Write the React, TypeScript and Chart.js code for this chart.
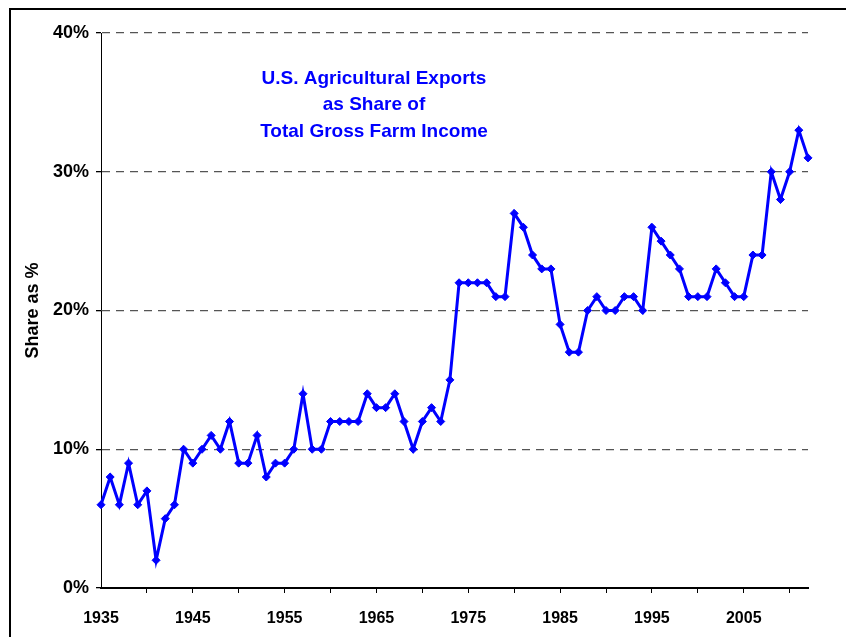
import React, { useEffect, useRef } from "react";
import { Chart, registerables } from "chart.js";

Chart.register(...registerables);

const years: string[] = [];
for (let y = 1935; y <= 2012; y++) years.push(String(y));

const shareValues: number[] = [
  6, 8, 6, 9, 6, 7, 2, 5, 6, 10,
  9, 10, 11, 10, 12, 9, 9, 11, 8, 9,
  9, 10, 14, 10, 10, 12, 12, 12, 12, 14,
  13, 13, 14, 12, 10, 12, 13, 12, 15, 22,
  22, 22, 22, 21, 21, 27, 26, 24, 23, 23,
  19, 17, 17, 20, 21, 20, 20, 21, 21, 20,
  26, 25, 24, 23, 21, 21, 21, 23, 22, 21,
  21, 24, 24, 30, 28, 30, 33, 31,
];

const titleLines = ["U.S. Agricultural Exports", "as Share of", "Total Gross Farm Income"];
const yAxisTitle = "Share as %";

const FONT = '"Liberation Sans", Arial, sans-serif';

const framePlugin = {
  id: "frame",
  beforeDraw(chart: any) {
    const ctx = chart.ctx;
    ctx.save();
    ctx.fillStyle = "#ffffff";
    ctx.fillRect(0, 0, chart.width, chart.height);
    ctx.restore();
  },
  afterDraw(chart: any) {
    const ctx = chart.ctx;
    ctx.save();
    ctx.fillStyle = "#000000";
    ctx.fillRect(9, 8, chart.width - 9, 2);
    ctx.fillRect(9, 8, 2, chart.height - 8);
    ctx.fillStyle = "#0000ff";
    ctx.font = "bold 19px " + FONT;
    ctx.textAlign = "center";
    ctx.textBaseline = "middle";
    const cx = 374;
    const ys = [79, 105, 132];
    titleLines.forEach((t, i) => ctx.fillText(t, cx, ys[i]));
    ctx.restore();
  },
};

export default function App() {
  const ref = useRef<HTMLCanvasElement | null>(null);
  useEffect(() => {
    if (!ref.current) return;
    const chart = new Chart(ref.current, {
      type: "line",
      data: {
        labels: years,
        datasets: [
          {
            data: shareValues,
            borderColor: "#0000ff",
            backgroundColor: "#0000ff",
            borderWidth: 3,
            pointStyle: "rectRot",
            pointRadius: 4,
            pointBorderWidth: 1,
            pointBackgroundColor: "#0000ff",
            pointBorderColor: "#0000ff",
            tension: 0,
            clip: false as any,
          },
        ],
      },
      plugins: [framePlugin],
      options: {
        animation: false,
        responsive: false,
        devicePixelRatio: 1,
        layout: { padding: { left: 0, right: 38, top: 33, bottom: 0 } },
        plugins: { legend: { display: false }, tooltip: { enabled: false }, title: { display: false } },
        scales: {
          x: {
            type: "category",
            offset: false,
            afterFit: (s: any) => {
              s.height = 49;
            },
            border: { display: true, color: "#000000", width: 2 },
            grid: {
              drawOnChartArea: false,
              drawTicks: true,
              tickLength: 5,
              tickWidth: 1,
              color: "rgba(0,0,0,0)",
              tickColor: (c: any) => (c.index % 5 === 0 && c.index > 0 ? "#000000" : "rgba(0,0,0,0)"),
            },
            ticks: {
              autoSkip: false,
              maxRotation: 0,
              minRotation: 0,
              padding: 16,
              color: "#000000",
              font: { family: FONT, size: 16, weight: "bold" },
              callback: (_v: any, i: number) => (i % 10 === 0 ? years[i] : ""),
            },
          },
          y: {
            min: 0,
            max: 40,
            afterFit: (s: any) => {
              s.width = 101;
            },
            border: { display: true, color: "#000000", width: 1, dash: [8, 6] },
            grid: {
              color: (c: any) => (c.tick && c.tick.value === 0 ? "rgba(0,0,0,0)" : "#555555"),
              lineWidth: 1.3,
              tickColor: "#000000",
              tickLength: 5,
              tickBorderDash: [],
              drawTicks: true,
            } as any,
            ticks: {
              stepSize: 10,
              padding: 7,
              color: "#000000",
              font: { family: FONT, size: 18, weight: "bold" },
              callback: (v: any) => v + "%",
            },
            title: {
              display: true,
              text: yAxisTitle,
              color: "#000000",
              font: { family: FONT, size: 18, weight: "bold" },
              padding: { top: 22, bottom: 0 },
            },
          },
        },
      } as any,
    });
    return () => chart.destroy();
  }, []);
  return (
    <div style={{ position: "fixed", left: 0, top: 0, width: 846, height: 637 }}>
      <canvas ref={ref} width={846} height={637} />
    </div>
  );
}
